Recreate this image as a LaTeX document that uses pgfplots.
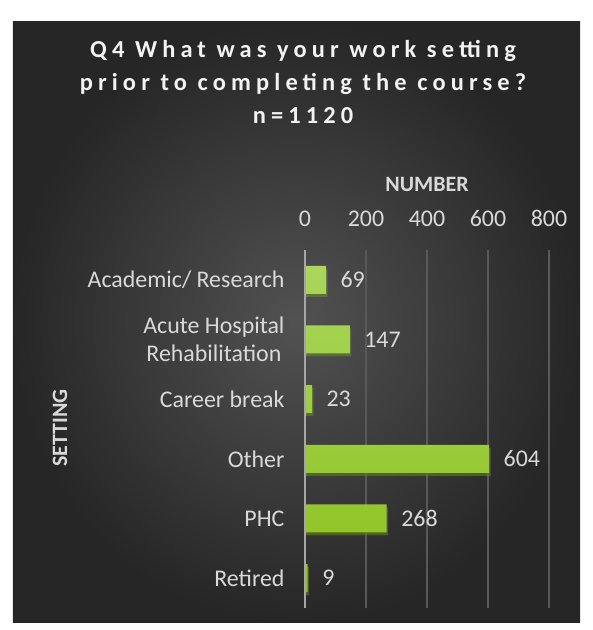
\documentclass[border=0pt]{standalone}
\usepackage{fontspec}
\setmainfont{Carlito}
\newfontfamily\titlefont[LetterSpace=21]{Carlito}
\usepackage{pgfplots}
\pgfplotsset{compat=1.18}
\usetikzlibrary{backgrounds,shadows}
\definecolor{lbl}{HTML}{D9D9D9}
\definecolor{ttl}{HTML}{F2F2F2}
\definecolor{grd}{HTML}{595959}
\definecolor{barA}{HTML}{A9D65C}
\definecolor{barB}{HTML}{8CC21E}
\begin{document}
\begin{tikzpicture}[x=1bp,y=1bp]
\begin{axis}[name=ax, scale only axis,
  width=244bp, height=358bp,
  xbar, bar width=28bp,
  xmin=0, xmax=800, ymin=-0.5, ymax=5.5, y dir=reverse,
  ytick={0,...,5},
  yticklabels={Academic/ Research,{Acute Hospital\\Rehabilitation},Career break,Other,PHC,Retired},
  xtick={0,200,...,800},
  xticklabel pos=upper,
  axis line style={draw=none},
  major tick length=0,
  xmajorgrids, grid style={grd, line width=1.2bp},
  /pgf/number format/assume math mode=true,
  ticklabel style={font=\fontsize{24}{28}\selectfont, text=lbl},
  yticklabel style={align=center, xshift=-17bp},
  xticklabel style={yshift=20bp},
  nodes near coords,
  nodes near coords style={font=\fontsize{24}{26}\selectfont, text=lbl, anchor=west, xshift=11bp},
  clip=false,
]
\addplot[draw=none, top color=barA, bottom color=barB,
  drop shadow={shadow xshift=1.5bp, shadow yshift=-3bp, opacity=0.4, fill=black}]
  coordinates {(69,0) (147,1) (23,2) (604,3) (268,4) (9,5)};
\draw[color=black!35, line width=2.8bp] (axis cs:0,-0.5) -- (axis cs:0,5.5);
\coordinate (tl) at (axis cs:0,-0.5);
\end{axis}
\begin{scope}[on background layer, shift={(tl)}, xshift=-305bp, yshift=-380bp]
\fill[white] (0,0) rectangle (593,630);
\shade[inner color=black!68, outer color=black!85] (13,8) rectangle (580,608);
\end{scope}
\begin{scope}[shift={(tl)}, xshift=-305bp, yshift=-380bp]
\node[font=\titlefont\bfseries\fontsize{24.5}{33}\selectfont, text=ttl, align=center] at (303,548) {Q4 What was your work setting\\prior to completing the course?\\n=1120};
\node[font=\bfseries\fontsize{22}{24}\selectfont, text=lbl] at (427,446) {NUMBER};
\node[font=\bfseries\fontsize{22}{24}\selectfont, text=lbl, rotate=90] at (60,202) {SETTING};
\pgfresetboundingbox
\useasboundingbox (0,0) rectangle (593,630);
\end{scope}
\end{tikzpicture}
\end{document}
